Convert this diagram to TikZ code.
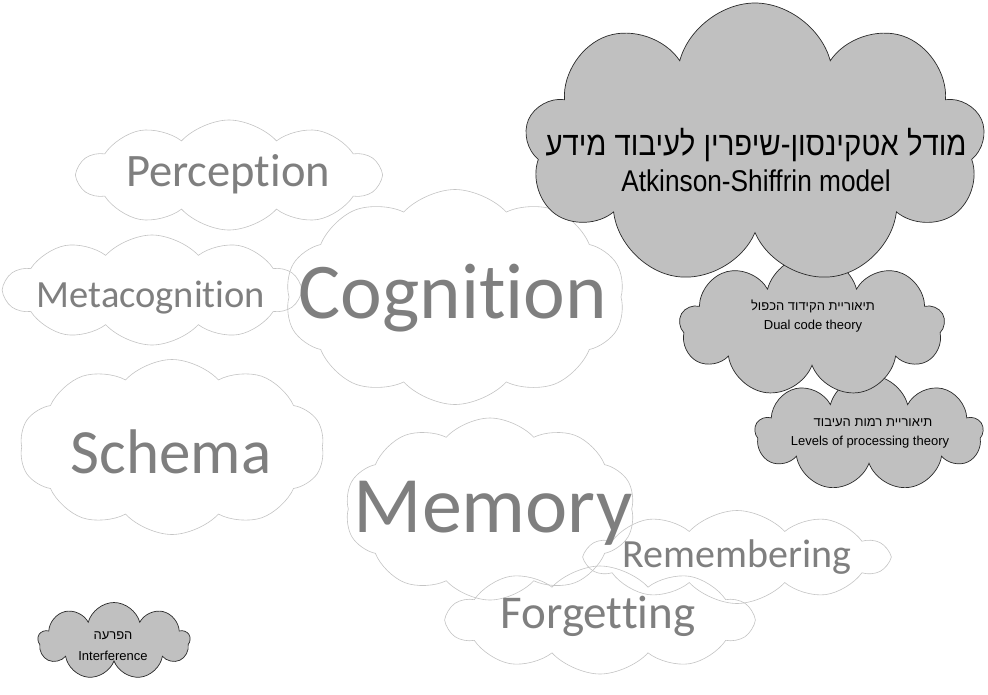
\documentclass[tikz,border=0pt]{standalone}
\usepackage{fontspec}
\usetikzlibrary{shapes.symbols}
\TeXXeTstate=1
\setmainfont[Ligatures=NoCommon]{Carlito}
\newfontfamily\hebfont[Script=Hebrew]{Liberation Sans}
\newfontfamily\hebnarrow[Script=Hebrew,FakeStretch=0.875]{Liberation Sans}
\newfontfamily\arialnarrow[FakeStretch=0.875]{Liberation Sans}
\newfontfamily\arialf{Liberation Sans}
\newcommand\nl{\kern0pt }
\definecolor{wordgray}{HTML}{7F7F7F}
\definecolor{lineGray}{HTML}{C4C4C4}
\definecolor{fillGray}{HTML}{C0C0C0}
\definecolor{edgeGray}{HTML}{2A2A2A}
\tikzset{
  wcloud/.style={cloud, cloud puffs=10, cloud puff arc=95, cloud ignores aspect, draw=lineGray, line width=0.6pt, inner sep=0pt},
  gcloud/.style={cloud, cloud puffs=9, cloud puff arc=150, cloud ignores aspect, draw=edgeGray, fill=fillGray, line width=0.7pt, inner sep=0pt},
  wtext/.style={text=wordgray, anchor=base, inner sep=0pt},
  htext/.style={text=black, anchor=base, inner sep=0pt}
}
\begin{document}
\begin{tikzpicture}[x=1pt,y=-1pt]
\useasboundingbox (0,0) rectangle (988,694);
\fill[white] (0,0) rectangle (988,694);
% word clouds (outlines)
\node[wcloud, minimum width=302, minimum height=110] (perc) at (229,175) {};
\node[wcloud, minimum width=295, minimum height=110] (meta) at (152,290) {};
\node[wcloud, minimum width=340, minimum height=215] (cogn) at (455,297) {};
\node[wcloud, minimum width=305, minimum height=175] (schm) at (172,447) {};
\node[wcloud, minimum width=290, minimum height=182] (memo) at (490,509) {};
\node[wcloud, minimum width=301, minimum height=93] (reme) at (737,557) {};
\node[wcloud, minimum width=305, minimum height=108] (forg) at (600,620) {};
% word texts
\node[wtext, font=\fontsize{46.5}{46.5}\selectfont] (percT) at (228,186) {Percept\nl ion};
\node[wtext, font=\fontsize{38.5}{38.5}\selectfont] (metaT) at (151,307) {Metacognit\nl ion};
\node[wtext, font=\fontsize{79}{79}\selectfont] (cognT) at (453,318) {Cognit\nl ion};
\node[wtext, font=\fontsize{63}{63}\selectfont] (schmT) at (171,473) {Schema};
\node[wtext, font=\fontsize{80}{80}\selectfont] (memoT) at (493,532) {Memory};
\node[wtext, font=\fontsize{40}{40}\selectfont] (remeT) at (737,567) {Remembering};
\node[wtext, font=\fontsize{47}{47}\selectfont] (forgT) at (598,628) {Forgett\nl ing};
% grey clouds
\node[gcloud, minimum width=228, minimum height=116] (levl) at (869,433) {};
\node[gcloud, minimum width=265, minimum height=142] (dual) at (812,326) {};
\node[gcloud, minimum width=460, minimum height=282] (atki) at (755,144) {};
\node[gcloud, minimum width=152, minimum height=77] (intf) at (114,641) {};
% grey cloud texts
\node[htext, font=\hebnarrow\fontsize{33.5}{33.5}\selectfont] (atkiH) at (756,155) {\beginR מודל אטקינסון-שיפרין לעיבוד מידע\endR};
\node[htext, font=\arialnarrow\fontsize{30}{30}\selectfont] (atkiE) at (756,191) {Atkinson-Shiffrin model};
\node[htext, font=\hebfont\fontsize{13}{13}\selectfont] (dualH) at (813,310) {\beginR תיאוריית הקידוד הכפול\endR};
\node[htext, font=\arialf\fontsize{13}{13}\selectfont] (dualE) at (813,329) {Dual code theory};
\node[htext, font=\hebfont\fontsize{13}{13}\selectfont] (levlH) at (873,426) {\beginR תיאוריית רמות העיבוד\endR};
\node[htext, font=\arialf\fontsize{13}{13}\selectfont] (levlE) at (870,445) {Levels of processing theory};
\node[htext, font=\hebfont\fontsize{13}{13}\selectfont] (intfH) at (113,639) {\beginR הפרעה\endR};
\node[htext, font=\arialf\fontsize{13}{13}\selectfont] (intfE) at (113,660) {Interference};
\end{tikzpicture}
\end{document}
